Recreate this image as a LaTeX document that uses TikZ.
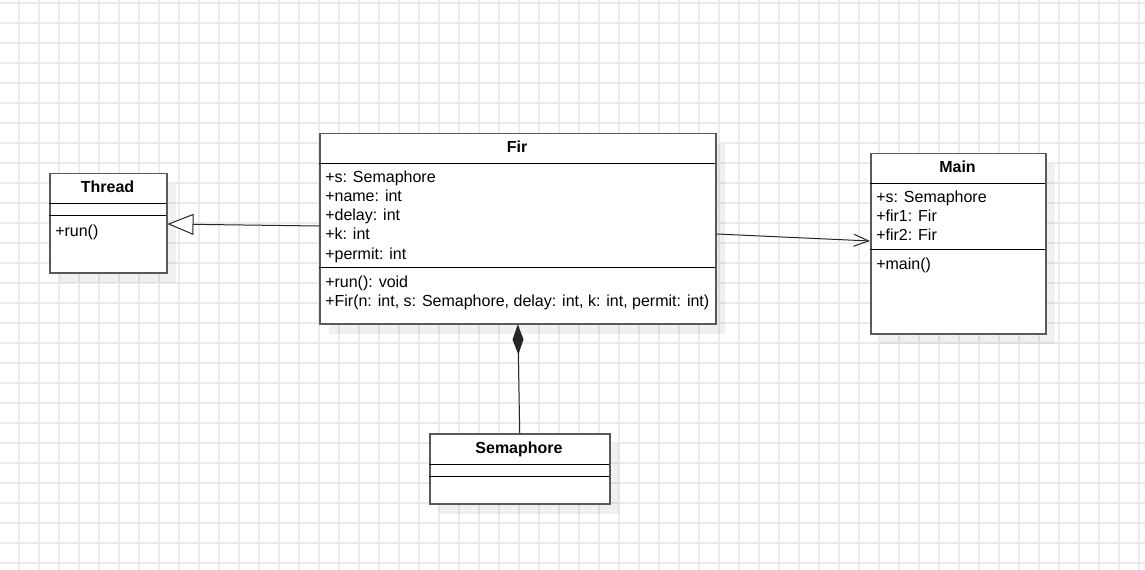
\documentclass[tikz,border=0pt]{standalone}
\usepackage{fontspec}
\setmainfont{Liberation Sans}
\usetikzlibrary{arrows.meta}
\usetikzlibrary{shadows}
\definecolor{gridgray}{HTML}{EBEBEB}
\definecolor{boxgray}{HTML}{595959}
\definecolor{linegray}{HTML}{262626}
\newcommand\pxu{0.75pt}

\tikzset{
  classbox/.style={draw=boxgray, line width=1.5*\pxu, fill=white, inner sep=0, anchor=north west,
    drop shadow={shadow xshift=6.75pt, shadow yshift=-7.5pt, fill=black, opacity=0.06}},
  sepline/.style={black, line width=\pxu},
  gridline/.style={gridgray, line width=1.5*\pxu},
  ctitle/.style={anchor=base, inner sep=0, font=\fontsize{12pt}{14pt}\selectfont\bfseries},
  member/.style={anchor=base west, inner sep=0, font=\fontsize{12pt}{14pt}\selectfont},
  inherit/.style={linegray, line width=\pxu, -{Triangle[open, length=19.5pt, width=15.75pt, fill=white]}},
  assoc/.style={linegray, line width=\pxu, -{Straight Barb[length=11.25pt, width=9pt]}},
  compo/.style={linegray, line width=\pxu, -{Diamond[length=22.5pt, width=8.25pt]}}
}

\begin{document}
\begin{tikzpicture}[x=\pxu, y=-\pxu]

\useasboundingbox (0,0) rectangle (1145,570);
\fill[white] (0,0) rectangle (1145,570);
\draw[gridline] \foreach \gx in {19,39,...,1139} {(\gx,0) -- (\gx,570)};
\draw[gridline] \foreach \gy in {3,23,...,563} {(0,\gy) -- (1145,\gy)};

\node[classbox, minimum width=117*\pxu, minimum height=99*\pxu] (thread) at (49,173) {};
\node[classbox, minimum width=396*\pxu, minimum height=190*\pxu] (fir) at (319,133) {};
\node[classbox, minimum width=175*\pxu, minimum height=180*\pxu] (main) at (870,153) {};
\node[classbox, minimum width=180*\pxu, minimum height=70*\pxu] (sem) at (429,433) {};

\draw[sepline] (49,204) -- (166,204) (49,216) -- (166,216);
\draw[sepline] (319,164) -- (715,164) (319,268) -- (715,268);
\draw[sepline] (870,184) -- (1045,184) (870,250) -- (1045,250);
\draw[sepline] (429,464) -- (609,464) (429,476) -- (609,476);

\node[ctitle] (thread-t) at (107.5,193) {Thread};
\node[ctitle] (fir-t) at (517,153) {Fir};
\node[ctitle] (main-t) at (957.5,173) {Main};
\node[ctitle] (sem-t) at (519,453) {Semaphore};

\node[member] (thread-m1) at (55,237) {+run()};
\foreach \txt [count=\i] in {+s: Semaphore, +name: int, +delay: int, +k: int, +permit: int}
  \node[member] (fir-a\i) at (325,164+19*\i) {\txt};
\node[member] (fir-m1) at (325,287) {+run(): void};
\node[member] (fir-m2) at (325,306) {+Fir(n: int, s: Semaphore, delay: int, k: int, permit: int)};
\foreach \txt [count=\i] in {+s: Semaphore, +fir1: Fir, +fir2: Fir}
  \node[member] (main-a\i) at (876,184+19*\i) {\txt};
\node[member] (main-m1) at (876,269) {+main()};

\draw[inherit] (fir.west |- 0,226) -- (thread.east |- 0,224);
\draw[assoc] (fir.east |- 0,234) -- (main.west |- 0,241);
\draw[compo] (sem.north) -- (fir.south);

\end{tikzpicture}
\end{document}
